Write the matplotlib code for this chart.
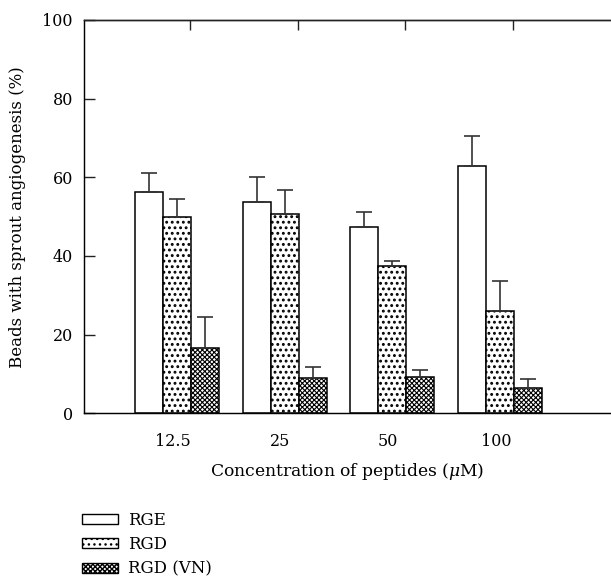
import matplotlib
matplotlib.use('Agg')
import matplotlib.pyplot as plt
import matplotlib.patches as mpatches
import numpy as np

plt.rcParams['font.family'] = ['DejaVu Serif']
plt.rcParams['mathtext.fontset'] = 'dejavuserif'

concentrations = ['12.5', '25', '50', '100']
series = ['RGE', 'RGD', 'RGD (VN)']
rge = [56.3, 53.8, 47.3, 62.8]
rge_err = [4.7, 6.3, 3.8, 7.6]
rgd = [49.8, 50.7, 37.5, 26.0]
rgd_err = [4.8, 6.2, 1.3, 7.7]
rgd_vn = [16.7, 9.1, 9.2, 6.5]
rgd_vn_err = [7.9, 2.6, 1.7, 2.3]

values = [rge, rgd, rgd_vn]
errors = [rge_err, rgd_err, rgd_vn_err]
hatches = ['', '...', 'xxxxxxx']
hatch_lw = [1.0, 1.3, 0.8]

fig = plt.figure(figsize=(6.11, 5.81), dpi=100)
ax = fig.add_axes([84 / 611, 1 - 413.3 / 581, 1 - 84 / 611, (413.3 - 20) / 581])

x = np.arange(len(concentrations))
width = 0.26
offsets = [-width, 0, width]
handles = []
for vals, errs, off, h, hlw, name in zip(values, errors, offsets, hatches, hatch_lw, series):
    with plt.rc_context({'hatch.linewidth': hlw}):
        ax.bar(x + off, vals, width, color='white', edgecolor='black',
               linewidth=1.1, hatch=h, label=name, zorder=2)
        handles.append(mpatches.Patch(facecolor='white', edgecolor='black',
                                      linewidth=1.0, hatch=h, label=name))
    ax.errorbar(x + off, vals, yerr=[np.zeros(len(errs)), errs], fmt='none',
                ecolor='#333333', elinewidth=1.2, capsize=6, capthick=1.2, zorder=3)

ax.set_xlim(-0.864, 4.03)
ax.set_ylim(0, 100)
ax.set_yticks([0, 20, 40, 60, 80, 100])
ax.tick_params(axis='y', direction='in', length=8, width=1.0, labelsize=11.5, pad=8,
               color='#222222')
ax.set_xticks(x - 0.04)
ax.set_xticklabels(concentrations)
ax.tick_params(axis='x', length=0, labelsize=11.5, pad=14)
ax.spines['right'].set_visible(False)
for s in ['left', 'top', 'bottom']:
    ax.spines[s].set_linewidth(1.0)
    ax.spines[s].set_color('#222222')

ax2 = ax.twiny()
ax2.set_xlim(ax.get_xlim())
ax2.set_xticks(x + 0.12)
ax2.set_xticklabels([])
ax2.tick_params(axis='x', direction='in', length=7, width=1.0, color='#222222')
ax2.spines['right'].set_visible(False)
ax2.spines['top'].set_linewidth(1.0)
ax2.spines['top'].set_color('#222222')

ax.set_xlabel('Concentration of peptides ($\\mu$M)', fontsize=12.3, labelpad=8)
ax.set_ylabel('Beads with sprout angiogenesis (%)', fontsize=12, labelpad=12)

fig.legend(handles=handles, loc='upper left', bbox_to_anchor=(70 / 611, 1 - 500 / 581),
           frameon=False, fontsize=12, handlelength=2.2, handleheight=0.55,
           handletextpad=0.6, labelspacing=0.45, borderpad=0.2)

fig.savefig('out.png', dpi=100)
